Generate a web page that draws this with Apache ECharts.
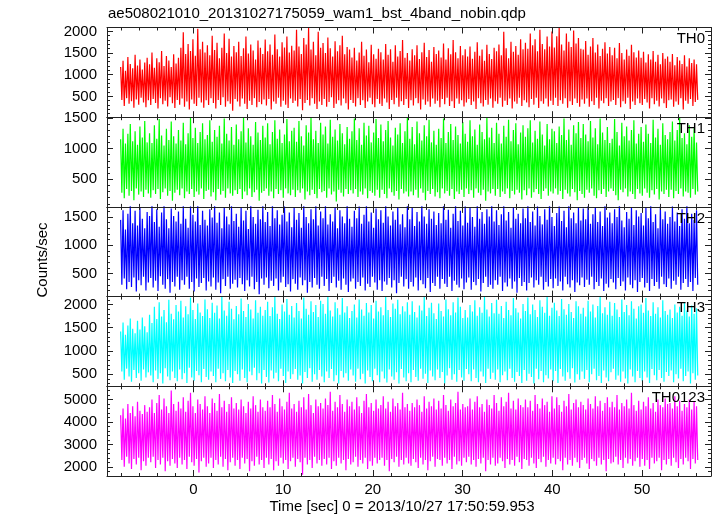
<!DOCTYPE html>
<html>
<head>
<meta charset="utf-8">
<script src="https://cdn.jsdelivr.net/npm/echarts@6/dist/echarts.min.js"></script>
<style>html,body{margin:0;padding:0;background:#fff}#c{width:717px;height:516px}</style>
</head>
<body>
<div id="c"></div>
<script>
// ---- data ----
var TITLE = 'ae508021010_20131027175059_wam1_bst_4band_nobin.qdp';
var XLABEL = 'Time [sec] 0 = 2013/10/27 17:50:59.953';
var YLABEL = 'Counts/sec';
var BANDS = ['TH0', 'TH1', 'TH2', 'TH3', 'TH0123'];
var T_START = -8.1, T_END = 56.2;

var th0 = [
1180,420,1320,280,1090,460,1410,330,1250,390,1150,240,1460,430,1210,310,1350,470,1120,360,1280,250,1390,410,
1240,300,1510,440,1160,350,1380,220,1290,460,1550,320,1200,400,1430,270,1330,480,1180,340,1470,230,1260,420,
1390,310,1620,450,1980,260,1480,380,1710,200,1550,430,1820,330,1440,280,2060,470,1590,360,1760,240,1510,410,
1680,300,1450,460,1900,350,1570,220,1740,420,1380,300,1620,480,1950,260,1500,390,1830,330,1420,170,1660,440,
1520,380,1760,270,1430,450,1610,330,1880,210,1490,400,1700,300,1560,460,1350,250,1790,370,1620,320,1480,430,
1810,290,1540,440,1700,200,1460,380,1930,330,1590,470,1420,260,1750,400,1630,310,1880,230,1510,450,1670,350,
1560,400,2040,270,1650,440,1480,180,1850,350,1700,420,2090,290,1580,460,1760,330,1450,210,1990,380,1620,300,
1730,440,1500,260,1860,370,1610,480,1420,230,1770,330,1540,410,1680,290,1900,450,1470,340,1640,200,1580,420,
1400,350,1620,270,1330,460,1510,300,1760,410,1440,230,1580,380,1290,470,1690,320,1470,250,1370,440,1600,330,
1520,280,1350,450,1710,360,1460,210,1590,420,1300,320,1680,470,1420,260,1550,390,1800,300,1390,440,1500,230,
1330,410,1590,290,1450,460,1680,340,1360,200,1520,430,1740,310,1410,380,1570,260,1300,450,1640,330,1480,400,
1560,250,1400,440,1720,320,1350,470,1610,280,1470,390,1800,230,1520,450,1380,330,1660,410,1450,270,1590,360,
1420,440,1650,300,1370,380,1530,210,1750,460,1440,340,1580,270,1320,420,1690,310,1480,450,1360,240,1620,390,
1540,330,1700,470,1450,260,1990,400,1610,300,1380,450,1760,220,1530,380,1660,330,1460,470,1820,280,1590,410,
1740,360,1600,250,1950,440,1680,310,1820,470,1540,230,2040,390,1710,330,1590,450,1880,270,1650,400,2000,300,
1630,470,1890,280,2090,410,1700,330,1560,460,1950,240,1760,390,1640,300,2020,450,1720,350,1850,260,1600,430,
1580,330,1780,450,1460,260,1650,390,1850,300,1510,470,1700,220,1430,400,1600,340,1750,460,1490,280,1640,380,
1450,420,1620,300,1380,460,1730,250,1500,390,1350,330,1580,470,1440,210,1690,380,1520,300,1400,450,1560,340,
1390,300,1530,440,1280,360,1470,220,1350,460,1550,320,1300,400,1460,270,1240,450,1500,340,1370,230,1420,410,
1300,430,1480,260,1220,380,1410,310,1330,460,1250,200,1450,400,1190,330,1380,440,1270,280,1350,370,1240,420
];
var th1 = [
1150,280,1320,190,1080,340,1240,230,1400,310,1120,160,1280,350,1060,250,1360,300,1180,210,1450,330,1100,270,
1250,200,1090,320,1380,260,1160,340,1480,180,1210,290,1050,350,1320,230,1140,310,1440,150,1200,280,1080,330,
1300,240,1130,350,1420,190,1070,300,1250,260,1500,340,1170,210,1340,300,1090,250,1270,350,1410,180,1150,310,
1220,330,1460,220,1110,290,1300,160,1190,340,1370,250,1080,310,1490,200,1240,350,1130,270,1350,230,1060,320,
1390,260,1150,340,1280,180,1500,300,1100,240,1330,350,1200,210,1060,290,1430,330,1260,150,1140,280,1370,310,
1180,350,1410,230,1070,300,1270,190,1460,340,1160,260,1310,320,1090,200,1230,350,1480,270,1120,240,1290,330,
1340,210,1110,320,1450,280,1200,350,1050,170,1380,300,1260,240,1500,330,1150,260,1290,190,1090,340,1420,290,
1230,310,1360,200,1080,350,1470,250,1190,300,1310,140,1130,330,1400,280,1250,220,1070,340,1350,260,1160,320,
1280,270,1490,340,1140,210,1330,300,1060,250,1420,350,1210,190,1370,310,1100,280,1260,230,1480,330,1170,200,
1390,330,1120,260,1300,190,1450,350,1180,290,1050,230,1340,310,1230,170,1410,340,1090,270,1280,300,1500,220,
1160,300,1350,240,1070,330,1440,200,1250,350,1130,280,1380,160,1200,310,1470,260,1100,340,1290,220,1060,290,
1320,190,1170,350,1490,270,1090,310,1270,230,1400,340,1140,180,1360,300,1220,260,1080,330,1430,210,1240,350,
1110,260,1460,320,1200,200,1310,350,1060,280,1390,240,1270,330,1150,150,1500,300,1180,270,1340,340,1090,230,
1420,340,1240,210,1080,300,1370,260,1190,350,1470,190,1120,310,1300,250,1410,330,1070,280,1260,170,1380,320,
1190,240,1330,350,1460,200,1100,290,1290,340,1160,260,1440,180,1230,310,1050,350,1400,230,1150,300,1320,270,
1280,350,1090,250,1360,310,1220,180,1490,330,1140,270,1310,220,1060,340,1380,290,1250,160,1430,310,1170,260,
1400,200,1230,330,1120,280,1450,350,1180,230,1330,190,1070,320,1490,260,1260,340,1140,210,1350,300,1090,350,
1160,310,1480,240,1270,160,1050,330,1420,290,1200,350,1360,220,1130,300,1300,260,1460,180,1080,340,1240,270,
1350,230,1110,350,1390,280,1240,200,1090,320,1470,250,1180,340,1320,170,1060,300,1410,260,1220,330,1150,210,
1270,330,1440,190,1130,310,1300,260,1500,350,1170,220,1250,300,1070,280,1380,200,1190,340,1330,250,1100,300
];
var th2 = [
1450,300,1620,410,1280,220,1560,350,1700,260,1390,430,1610,180,1350,380,1680,290,1470,440,1300,200,1590,340,
1520,420,1750,250,1410,370,1640,190,1330,450,1580,300,1720,230,1460,400,1300,160,1650,350,1520,270,1420,440,
1600,210,1380,380,1700,300,1470,440,1310,230,1690,350,1540,180,1420,410,1760,260,1360,330,1610,420,1450,200,
1350,360,1640,270,1490,430,1720,210,1400,340,1580,150,1300,400,1670,280,1510,440,1370,230,1700,320,1430,390,
1560,250,1330,420,1680,310,1440,190,1610,380,1290,270,1750,440,1500,220,1380,350,1630,130,1460,410,1710,300,
1410,430,1590,240,1340,370,1720,280,1480,410,1620,200,1370,340,1540,440,1690,260,1420,310,1580,180,1320,400,
1660,320,1450,210,1570,430,1310,290,1740,380,1500,160,1390,350,1640,250,1460,420,1710,300,1350,230,1600,440,
1480,280,1700,400,1370,190,1550,330,1420,440,1680,250,1300,370,1620,210,1510,410,1390,300,1760,170,1470,360,
1330,410,1610,230,1480,350,1690,280,1380,430,1540,200,1720,320,1420,260,1580,440,1310,340,1650,210,1460,380,
1620,190,1400,360,1730,300,1510,420,1350,250,1600,380,1450,150,1680,330,1370,440,1550,270,1320,400,1700,230,
1460,350,1680,270,1340,430,1590,200,1420,380,1750,310,1510,240,1380,420,1640,170,1470,330,1600,280,1360,440,
1570,230,1390,400,1700,320,1450,260,1630,440,1310,190,1560,370,1720,300,1430,250,1610,410,1350,220,1690,340,
1400,430,1660,210,1500,350,1330,290,1710,400,1470,180,1590,330,1380,440,1640,260,1510,300,1740,230,1420,380,
1620,300,1360,440,1550,190,1700,340,1440,270,1590,410,1310,230,1680,360,1470,160,1560,420,1390,280,1650,350,
1480,200,1730,330,1410,430,1600,250,1350,380,1690,300,1520,440,1370,210,1640,350,1450,270,1760,400,1500,240,
1340,410,1570,280,1690,360,1430,200,1610,440,1320,310,1700,250,1480,380,1580,170,1390,340,1660,290,1440,430,
1650,260,1460,390,1720,300,1380,440,1550,220,1680,350,1410,280,1600,410,1340,190,1710,320,1490,250,1580,400,
1390,340,1640,220,1500,420,1760,280,1440,360,1320,200,1590,430,1470,300,1680,240,1360,380,1620,170,1510,350,
1570,420,1350,250,1660,330,1480,190,1720,400,1410,280,1550,350,1300,230,1690,440,1460,310,1600,260,1380,410,
1500,230,1690,370,1420,300,1580,440,1340,210,1640,330,1470,400,1710,260,1390,350,1560,190,1450,420,1620,300
];
var th3 = [
1420,560,1610,380,1350,620,1550,450,1700,340,1480,590,1380,420,1650,520,1460,360,1720,600,1530,430,1400,540,
1780,470,1600,330,1950,580,1690,400,2050,520,1740,300,1880,630,1620,450,2100,370,1800,560,1680,420,1990,350,
1850,600,2080,390,1720,520,1960,310,1790,640,2150,430,1880,360,1690,570,2020,480,1830,330,1750,610,2110,440,
1900,380,1710,560,2040,460,1820,330,1980,620,1700,400,2170,520,1870,350,1760,590,2060,430,1910,310,1680,570,
1970,500,1790,360,2130,600,1860,420,1730,330,2010,560,1890,480,1700,640,2090,370,1820,520,1950,300,1760,590,
1880,440,2060,320,1750,580,1940,410,2170,530,1800,350,1690,620,2000,460,1850,310,2120,560,1780,400,1970,500,
1720,610,2030,380,1860,470,1700,300,2150,550,1910,420,1780,630,2070,340,1840,500,1990,380,1730,590,2080,450,
2010,330,1800,560,2170,420,1870,610,1740,350,2050,480,1920,300,1780,570,2140,430,1830,520,1960,360,1710,600,
1860,470,2000,340,1720,620,2110,390,1890,510,1760,300,2030,580,1830,440,1990,350,1700,620,2080,480,1850,330,
1940,560,1770,410,2160,320,1880,600,1730,450,2020,380,1910,540,2100,300,1790,610,1960,430,1850,350,2050,520,
1780,330,2070,590,1840,440,1720,360,1980,620,1870,400,2170,510,1750,310,1930,580,2040,450,1810,370,1690,600,
2020,420,1860,550,1740,300,2110,470,1900,630,1770,380,2050,500,1830,340,2150,590,1950,430,1710,360,1880,610,
1720,500,1990,350,1850,600,2090,420,1760,330,1940,560,1820,450,2170,310,1890,620,1740,400,2030,530,1810,380,
2100,600,1800,330,1970,480,1710,560,2060,370,1880,620,1770,420,2140,340,1920,550,1830,460,1700,310,2010,590,
1860,360,2150,510,1790,440,2000,300,1880,620,1730,390,2090,570,1950,330,1820,480,2170,410,1760,600,1930,350,
2040,570,1870,310,1750,610,2120,450,1900,360,1780,540,2010,400,1840,630,1710,320,2070,500,1960,380,1800,560,
1930,400,1740,590,2080,330,1850,500,2000,620,1720,370,1970,460,2160,310,1810,580,1940,430,1780,350,2060,540,
1760,620,2030,380,1890,470,1730,340,2110,560,1840,410,1990,300,1770,600,2070,450,1910,330,1700,570,1960,420,
2000,350,1820,560,2140,430,1870,310,1750,610,2050,480,1800,370,1940,590,1720,420,2090,340,1860,550,1780,460,
1890,580,1710,330,2000,500,1830,410,1950,620,1760,350,2030,460,1870,560,1740,300,1980,520,1800,380,1920,470
];
var th0123 = [
4300,2300,4600,2000,4150,2450,4800,2150,4400,1900,4700,2350,4250,2100,4900,2400,4500,1850,4350,2250,4750,2050,4450,2400,
4650,2200,5000,2450,4400,1950,4850,2300,5200,2100,4550,2400,5050,1800,4700,2250,4400,2050,5400,2350,4800,2150,4500,1950,
4900,2400,4600,2100,5100,2300,4450,1900,4950,2450,5300,2200,4700,2050,4400,2350,5000,1750,4800,2250,4550,2400,5150,2000,
4700,2150,4400,2400,5050,1950,4850,2300,4500,2100,5250,2450,4650,2000,4950,2350,4450,1850,4800,2200,5100,2400,4600,2050,
4850,2300,4550,1900,5000,2400,4700,2150,4400,2350,4900,1800,4600,2250,5150,2050,4750,2450,4450,2100,5000,2300,4650,1950,
4500,2400,4950,2100,4650,2350,5200,1850,4800,2250,4450,2050,5050,2400,4700,2150,4550,2300,4900,1900,5300,2250,4600,2400,
4800,2000,4450,2350,4950,2200,4650,1650,5100,2400,4550,2100,5250,2300,4750,1950,4400,2450,5000,2150,4700,2300,4850,2050,
4600,2350,5050,2100,4750,2400,5350,1900,4500,2250,4900,2050,4650,2400,5200,2150,4800,2300,4450,1850,5000,2350,4700,2100,
4900,2200,4550,2450,5100,2000,4700,2300,4400,2150,4950,2400,5250,1900,4650,2250,4850,2050,4500,2400,5000,2150,4600,2300,
4750,2400,5150,2050,4600,2300,4900,1800,4450,2350,5050,2200,4700,2450,4850,2000,4550,2300,5300,2100,4650,2400,4800,2150,
4500,2050,4850,2350,4650,2200,5000,1950,4750,2400,4450,2100,5150,2300,4600,1850,4900,2250,4700,2450,5050,2000,4550,2350,
4950,2300,4600,2050,5200,2400,4750,2150,4500,2300,5000,1900,4700,2450,4850,2100,5350,2250,4550,2050,4800,2400,4650,2200,
4700,2450,5050,2100,4550,2300,4900,2000,5150,2350,4650,2150,4800,2400,4450,1800,5000,2300,4750,2100,4600,2400,5200,2050,
4850,2150,4500,2400,5100,2250,4700,1950,4900,2350,5300,2100,4600,2300,4950,2050,4550,2450,5050,2200,4750,1900,4650,2350,
5000,2300,4650,2050,4950,2400,4500,2150,5200,1950,4800,2350,4600,2200,5050,2450,4750,2000,4900,2300,4450,2150,5150,2400,
4600,2100,5100,2350,4750,2250,4450,1850,4950,2400,4700,2100,5250,2300,4550,2050,4850,2400,5000,2200,4650,1950,4900,2300,
4750,2400,4550,2150,5050,1900,4800,2350,4600,2250,5150,2050,4700,2400,4950,2100,4500,2300,4850,1800,5100,2350,4650,2150,
4900,2200,4650,2450,5200,2100,4550,2300,4850,1950,4700,2400,5000,2150,4600,2350,5300,2050,4750,2250,4500,2400,4950,2000,
4550,2350,4900,2050,4700,2300,5100,1900,4600,2400,4850,2150,4450,2250,5000,2400,4750,1850,4650,2300,5050,2100,4800,2350,
4850,2050,4600,2400,5150,2200,4700,1950,4950,2350,4500,2100,4800,2400,4650,2250,5000,1900,4550,2350,4900,2150,4700,2300
];
var SERIES = [th0, th1, th2, th3, th0123];
var COLORS = ['#ff0000', '#00ff00', '#0000ff', '#00ffff', '#ff00ff'];
var Y_MIN = [20, 50, 90, 240, 1590];
var Y_MAX = [2090, 1510, 1680, 2170, 5590];
var Y_STEP = [500, 500, 500, 500, 1000];
var X_MIN = -9.62, X_MAX = 57.68;

// ---- layout ----
var LEFT = 107, RIGHT = 6, TOP = 27.5, PH = 89.7;
var FONT = 'Liberation Sans, Arial, Helvetica, sans-serif';
var AX = '#222';

var grids = [], xAxes = [], yAxes = [], series = [], graphics = [];
function tickCfg(len) { return { show: true, inside: true, length: len, lineStyle: { color: AX, width: 1 } }; }
function minorCfg() { return { show: true, splitNumber: 5, length: 3, lineStyle: { color: AX, width: 1 } }; }
function plain(v) { return String(Math.round(v)); }

for (var i = 0; i < 5; i++) {
  grids.push({ left: LEFT, right: RIGHT, top: TOP + i * PH, height: PH, outerBoundsMode: 'none', containLabel: false });
  var base = {
    type: 'value', gridIndex: i, min: X_MIN, max: X_MAX, minInterval: 10, maxInterval: 10,
    axisLine: { show: true, onZero: false, lineStyle: { color: AX, width: 1 } },
    axisTick: tickCfg(6), minorTick: minorCfg(), splitLine: { show: false }
  };
  var xb = Object.assign({}, base, {
    position: 'bottom', z: 5,
    axisLabel: i === 4 ? { show: true, fontSize: 15, fontFamily: FONT, color: '#000', margin: 6, showMinLabel: false, showMaxLabel: false, formatter: plain } : { show: false }
  });
  var xt = Object.assign({}, base, { position: 'top', z: 5, axisLabel: { show: false } });
  xAxes.push(xb, xt);
  var ybase = {
    type: 'value', gridIndex: i, min: Y_MIN[i], max: Y_MAX[i], minInterval: Y_STEP[i], maxInterval: Y_STEP[i],
    axisLine: { show: true, onZero: false, lineStyle: { color: AX, width: 1 } },
    axisTick: tickCfg(6), minorTick: minorCfg(), splitLine: { show: false }, z: 5
  };
  yAxes.push(Object.assign({}, ybase, {
    position: 'left',
    axisLabel: { show: true, fontSize: 15, fontFamily: FONT, color: '#000', margin: 10, showMinLabel: false, showMaxLabel: false, formatter: plain }
  }));
  yAxes.push(Object.assign({}, ybase, { position: 'right', axisLabel: { show: false } }));

  var vals = SERIES[i], n = vals.length, pts = [];
  for (var k = 0; k < n; k++) pts.push([T_START + (T_END - T_START) * k / (n - 1), vals[k]]);
  series.push({
    type: 'line', name: BANDS[i], xAxisIndex: 2 * i, yAxisIndex: 2 * i, data: pts,
    showSymbol: false, symbol: 'none', lineStyle: { color: COLORS[i], width: 1.2 }, itemStyle: { color: COLORS[i] },
    clip: true, silent: true, z: 1
  });
  graphics.push({
    type: 'text', x: 705, y: TOP + i * PH + 11.5, z: 10,
    style: { text: BANDS[i], fontSize: 15, fontFamily: FONT, fill: '#000', align: 'right', verticalAlign: 'middle' }
  });
}
graphics.push({ type: 'text', x: 108, y: 14, style: { text: TITLE, fontSize: 15, fontFamily: FONT, fill: '#000', align: 'left', verticalAlign: 'middle' } });
graphics.push({ type: 'text', x: 402, y: 507, style: { text: XLABEL, fontSize: 15, fontFamily: FONT, fill: '#000', align: 'center', verticalAlign: 'middle' } });
graphics.push({ type: 'text', x: 43, y: 260, rotation: Math.PI / 2, style: { text: YLABEL, fontSize: 15, fontFamily: FONT, fill: '#000', align: 'center', verticalAlign: 'middle' } });

var chart = echarts.init(document.getElementById('c'), null, { renderer: 'canvas' });
chart.setOption({
  animation: false,
  backgroundColor: '#fff',
  grid: grids, xAxis: xAxes, yAxis: yAxes, series: series, graphic: graphics
});
</script>
</body>
</html>
